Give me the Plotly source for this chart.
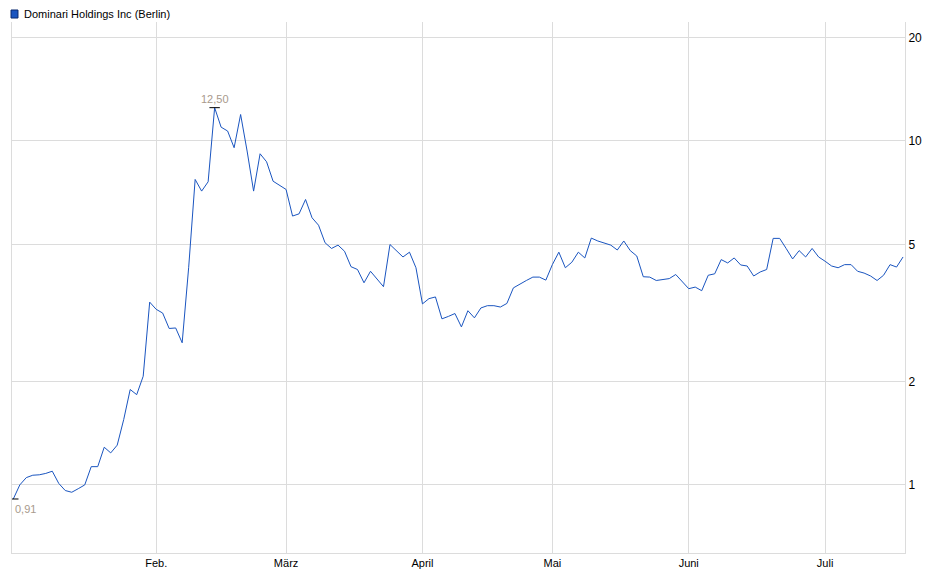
import math
import pandas as pd
import plotly.graph_objects as go

values = [0.91,1.00,1.05,1.067,1.07,1.08,1.096,1.01,0.963,0.952,0.975,1.00,1.13,1.13,1.287,1.239,1.305,1.549,1.894,1.83,
          2.07,3.40,3.24,3.16,2.85,2.86,2.59,4.28,7.73,7.15,7.61,12.5,10.97,10.69,9.56,11.94,9.35,7.15,9.18,8.70,
          7.64,7.45,7.23,6.05,6.14,6.76,
          5.98,5.69,5.06,4.87,4.98,4.78,4.31,4.23,3.87,4.18,3.96,3.77,5.00,4.78,4.60,4.75,4.28,3.36,3.48,3.52,
          3.04,3.09,3.15,2.88,3.21,3.06,3.27,3.32,3.32,3.29,3.37,3.74,3.84,3.93,4.02,4.02,3.94,4.37,4.75,4.28,
          4.44,4.75,4.57,5.22,5.12,5.05,4.98,4.82,5.12,4.80,4.63,4.03,4.02,3.93,3.96,3.98,4.09,3.90,3.72,3.76,
          3.67,4.07,4.11,4.52,4.42,4.57,4.36,4.33,4.05,4.16,4.23,5.21,5.21,4.87,4.54,4.80,4.60,4.87,4.60,4.47,
          4.33,4.28,4.37,4.37,4.18,4.13,4.05,3.93,4.07,4.37,4.30,4.60]
holidays = ["2025-04-18", "2025-04-21", "2025-05-01"]
month_names = {2: "Feb.", 3: "März", 4: "April", 5: "Mai", 6: "Juni", 7: "Juli"}
yticks = [1, 2, 5, 10, 20]
series_name = "Dominari Holdings Inc (Berlin)"

days = pd.bdate_range("2025-01-02", "2025-12-31")
days = [d for d in days if d.strftime("%Y-%m-%d") not in holidays][:len(values)]
idx = list(range(len(values)))

tickvals, ticktext = [], []
for i, d in enumerate(days):
    if i > 0 and d.month != days[i - 1].month and d.month in month_names:
        tickvals.append(i)
        ticktext.append(month_names[d.month])

imax = max(idx, key=lambda i: values[i])
imin = min(idx, key=lambda i: values[i])

fig = go.Figure()
fig.add_trace(go.Scatter(x=idx, y=values, mode="lines", line=dict(color="#1a55c0", width=1),
                         showlegend=False, hoverinfo="skip"))
for i, pos in ((imax, "top"), (imin, "bottom")):
    fig.add_trace(go.Scatter(x=[i - 0.8, i + 0.8], y=[values[i], values[i]], mode="lines",
                             line=dict(color="black", width=1), showlegend=False, hoverinfo="skip"))
    fig.add_annotation(x=i, y=math.log10(values[i]), text=f"{values[i]:.2f}".replace(".", ","),
                       showarrow=False, yshift=9 if pos == "top" else -10,
                       xanchor="center" if pos == "top" else "left",
                       font=dict(size=11, color="#a89a8c", family="Liberation Sans"))

fig.add_shape(type="rect", xref="paper", yref="paper", x0=-0.0011, x1=0.0067, y0=1.0075, y1=1.0226,
              fillcolor="#1a55c0", line=dict(color="#0a2a70", width=1))
fig.add_annotation(xref="paper", yref="paper", x=0.0112, y=1.015, text=series_name, showarrow=False,
                   xanchor="left", yanchor="middle", font=dict(size=11, color="black", family="Liberation Sans"))

fig.update_layout(
    width=940, height=579, margin=dict(l=4, r=43, t=14, b=34, autoexpand=False),
    paper_bgcolor="white", plot_bgcolor="white",
    font=dict(family="Liberation Sans", size=11, color="black"),
    xaxis=dict(range=[-0.2, 137.3], tickvals=tickvals, ticktext=ticktext, showgrid=True,
               gridcolor="#dcdcdc", zeroline=False, showline=True, linecolor="#dcdcdc",
               ticks="", tickfont=dict(size=11), automargin=False),
    yaxis=dict(type="log", range=[-0.198, 1.346], tickvals=yticks, ticktext=[str(v) for v in yticks],
               side="right", showgrid=True, gridcolor="#dcdcdc", zeroline=False, showline=True,
               linecolor="#dcdcdc", ticks="", tickfont=dict(size=12), mirror=True, automargin=False),
)
fig.write_html("out.html")
